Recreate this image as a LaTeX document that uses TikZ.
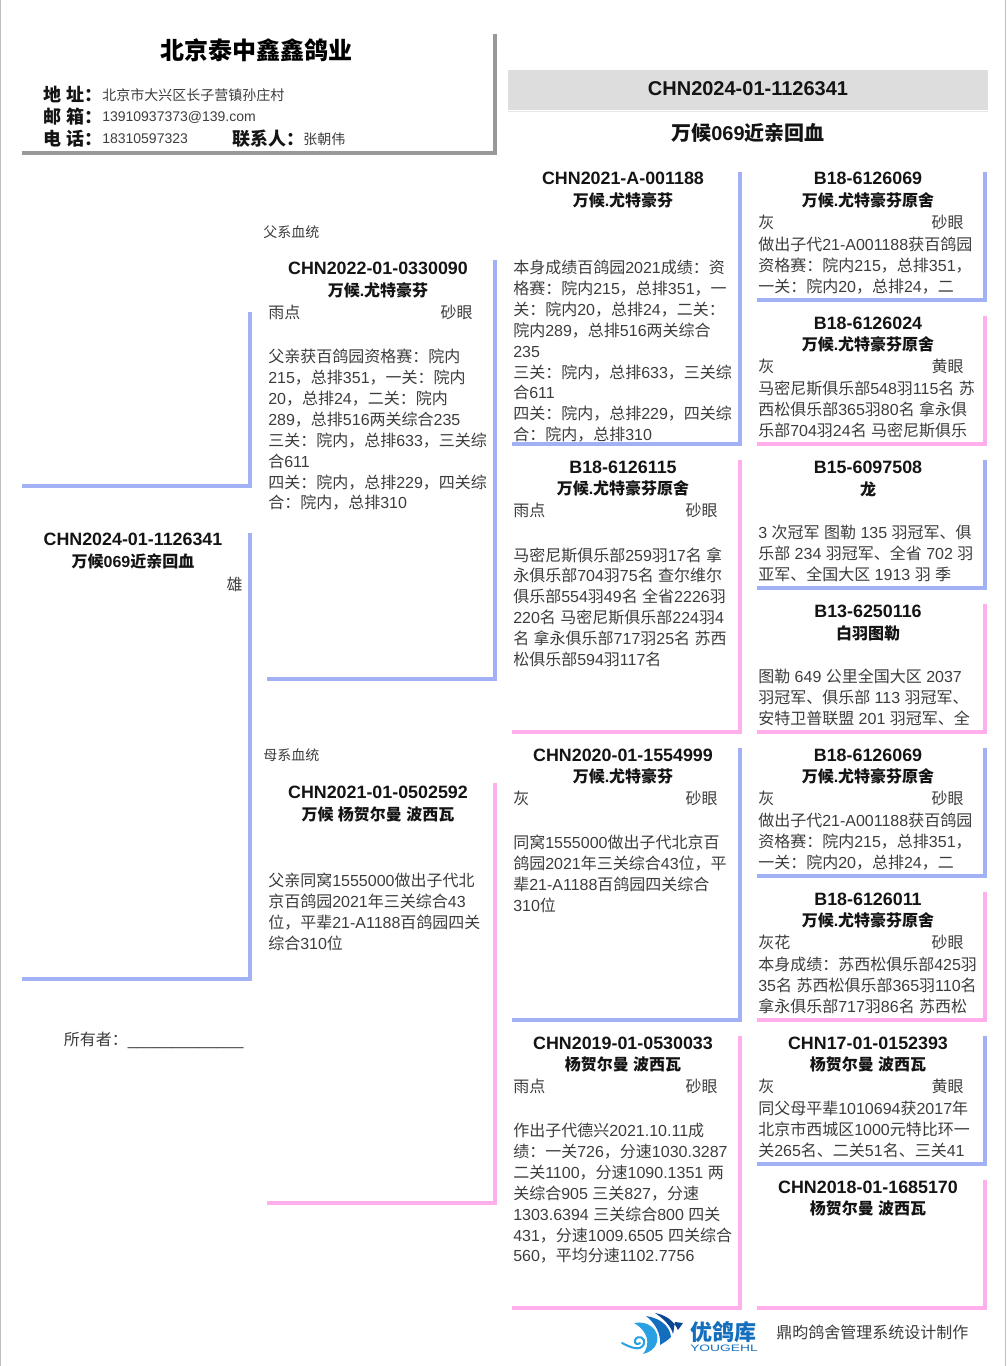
\documentclass[tikz,border=0pt]{standalone}
\usepackage{xcolor}
\usepackage{graphicx}
\usepackage{fontspec}
\setmainfont{Liberation Sans}
\newfontfamily\cjkfont{Noto Sans CJK SC}
\usepackage{tikz}
\definecolor{sirebar}{RGB}{162, 176, 245}
\definecolor{dambar}{RGB}{255, 176, 236}
\definecolor{headbar}{RGB}{153, 153, 153}
\definecolor{bandgray}{RGB}{221, 221, 221}
\definecolor{frameline}{RGB}{190, 190, 190}
\definecolor{bodyink}{RGB}{60, 60, 60}
\definecolor{titleink}{RGB}{20, 20, 20}
\definecolor{logoblue}{RGB}{20, 110, 190}
\definecolor{logodeep}{RGB}{10, 70, 150}
\definecolor{logolight}{RGB}{40, 160, 225}
% CJK characters go to the CJK family, the rest stays in Liberation Sans
\XeTeXinterchartokenstate=1
\newXeTeXintercharclass\cjkclass
\newcount\cjkcnt
\newcommand{\setcjkrange}[2]{\cjkcnt=#1
  \loop \XeTeXcharclass\cjkcnt=\cjkclass \ifnum\cjkcnt<#2 \advance\cjkcnt by 1 \repeat}
\setcjkrange{"3000}{"303F}
\setcjkrange{"4E00}{"9FFF}
\setcjkrange{"FF00}{"FFEF}
\XeTeXinterchartoks 0 \cjkclass={\cjkfont}
\XeTeXinterchartoks \cjkclass 0={\rmfamily}
\XeTeXinterchartoks 4095 \cjkclass={\cjkfont}
\XeTeXinterchartoks \cjkclass 4095={\rmfamily}
\XeTeXinterchartoks 4095 0={\rmfamily}

\begin{document}
\begin{tikzpicture}[x=0.75pt, y=-0.75pt]
    \tikzstyle{ringid} = [anchor=base, inner sep=0pt, text=titleink, font=\fontsize{13.4}{16}\selectfont\bfseries]
    \tikzstyle{birdname} = [anchor=base, inner sep=0pt, text=titleink, font=\fontsize{12}{15}\selectfont\bfseries]
    \tikzstyle{plumage} = [anchor=base west, inner sep=0pt, text=bodyink, font=\fontsize{12}{15}\selectfont]
    \tikzstyle{eyesign} = [anchor=base east, inner sep=0pt, text=bodyink, font=\fontsize{12}{15}\selectfont]
    \tikzstyle{notes} = [anchor=north west, inner sep=0pt, yshift=-1.5pt, align=left, text=bodyink, font=\fontsize{12}{15.65}\selectfont, execute at begin node=\strut]
    \tikzstyle{small} = [anchor=base west, inner sep=0pt, text=bodyink, font=\fontsize{10.5}{13}\selectfont]
    \tikzstyle{headlabel} = [anchor=base west, inner sep=0pt, text=titleink, font=\fontsize{13.5}{16}\selectfont\bfseries]
    \tikzstyle{cardbar} = [line width=3pt, line join=miter]

    \useasboundingbox (0,0) rectangle (1006,1366);
    \draw[frameline, line width=1pt] (0.5,0) -- (0.5,1366);
    \draw[frameline, line width=1pt] (1005.5,0) -- (1005.5,1366);

    % Breeder header
    \draw[headbar, cardbar] (494.5,34) -- (494.5,153.5) -- (22,153.5);
    \node[anchor=base, inner sep=0pt, text=black, font=\fontsize{18}{22}\selectfont\bfseries] (loft) at (256,60) {北京泰中鑫鑫鸽业};
    \node[headlabel] (addrkey) at (43,102) {地 址：};
    \node[headlabel] (mailkey) at (43,124) {邮 箱：};
    \node[headlabel] (telkey) at (43,146) {电 话：};
    \node[headlabel] (contactkey) at (232,146) {联系人：};
    \node[small] (addr) at (102,101) {北京市大兴区长子营镇孙庄村};
    \node[small] (mail) at (102,121.5) {13910937373@139.com};
    \node[small] (tel) at (102,143.5) {18310597323};
    \node[small] (contact) at (303,144.5) {张朝伟};

    % Title band
    \fill[bandgray] (508,70) rectangle (988,110);
    \draw[bandgray!70, line width=0.75pt] (508,112) -- (988,112);
    \node[anchor=base, inner sep=0pt, text=titleink, font=\fontsize{15}{18}\selectfont\bfseries] (bandid) at (748,95.5) {CHN2024-01-1126341};
    \node[anchor=base, inner sep=0pt, text=titleink, font=\fontsize{15}{18}\selectfont\bfseries] (bandname) at (748,141) {万候069近亲回血};

    % Card borders
    \foreach \xa/\xb/\ya/\yb/\barcol in {
        22/249.5/312/485.5/sirebar, 22/249.5/533/978.5/sirebar,
        267/494.5/260/678.5/sirebar, 267/494.5/783/1202.5/dambar,
        512/739.5/172/444/sirebar, 512/739.5/460/732/dambar,
        512/739.5/748/1020/sirebar, 512/739.5/1036/1308/dambar,
        757/985/172/300/sirebar, 757/985/316/444/dambar,
        757/985/460/588/sirebar, 757/985/604/732/dambar,
        757/985/748/876/sirebar, 757/985/892/1020/dambar,
        757/985/1036/1164/sirebar, 757/985/1180/1308/dambar}
        \draw[cardbar, \barcol] (\xb,\ya) -- (\xb,\yb) -- (\xa,\yb);

    % Subject bird
    \node[ringid] (subjid) at (133,545) {CHN2024-01-1126341};
    \node[birdname] (subjname) at (133,567) {万候069近亲回血};
    \node[eyesign] (subjsex) at (243,590) {雄};
    \node[notes, anchor=base west, execute at begin node={}] (owner) at (63.5,1043) {所有者：\_\_\_\_\_\_\_\_\_\_\_\_\_};

    % Parents
    \node[small] (sireline) at (263,237) {父系血统};
    \node[ringid] (sireid) at (378,274) {CHN2022-01-0330090};
    \node[birdname] (sirename) at (378,296) {万候.尤特豪芬};
    \node[plumage] (sirecol) at (268,318) {雨点};
    \node[eyesign] (sireeye) at (473,318) {砂眼};
    \node[notes] (sirenote) at (268,347) {父亲获百鸽园资格赛：院内\\215，总排351，一关：院内\\20，总排24，二关：院内\\289，总排516两关综合235\\三关：院内，总排633，三关综\\合611\\四关：院内，总排229，四关综\\合：院内，总排310};

    \node[small] (damline) at (263,760) {母系血统};
    \node[ringid] (damid) at (378,798) {CHN2021-01-0502592};
    \node[birdname] (damname) at (378,820) {万候 杨贺尔曼 波西瓦};
    \node[notes] (damnote) at (268,871) {父亲同窝1555000做出子代北\\京百鸽园2021年三关综合43\\位，平辈21-A1188百鸽园四关\\综合310位};

    % Grandparents
    \node[ringid] (ssid) at (623,185) {CHN2021-A-001188};
    \node[birdname] (ssname) at (623,206) {万候.尤特豪芬};
    \node[notes] (ssnote) at (513,258) {本身成绩百鸽园2021成绩：资\\格赛：院内215，总排351，一\\关：院内20，总排24，二关：\\院内289，总排516两关综合\\235\\三关：院内，总排633，三关综\\合611\\四关：院内，总排229，四关综\\合：院内，总排310};

    \node[ringid] (sdid) at (623,473) {B18-6126115};
    \node[birdname] (sdname) at (623,494) {万候.尤特豪芬原舍};
    \node[plumage] (sdcol) at (513,516) {雨点};
    \node[eyesign] (sdeye) at (718,516) {砂眼};
    \node[notes] (sdnote) at (513,545) {马密尼斯俱乐部259羽17名 拿\\永俱乐部704羽75名 查尔维尔\\俱乐部554羽49名 全省2226羽\\220名 马密尼斯俱乐部224羽4\\名 拿永俱乐部717羽25名 苏西\\松俱乐部594羽117名};

    \node[ringid] (dsid) at (623,761) {CHN2020-01-1554999};
    \node[birdname] (dsname) at (623,782) {万候.尤特豪芬};
    \node[plumage] (dscol) at (513,804) {灰};
    \node[eyesign] (dseye) at (718,804) {砂眼};
    \node[notes] (dsnote) at (513,833) {同窝1555000做出子代北京百\\鸽园2021年三关综合43位，平\\辈21-A1188百鸽园四关综合\\310位};

    \node[ringid] (ddid) at (623,1049) {CHN2019-01-0530033};
    \node[birdname] (ddname) at (623,1070) {杨贺尔曼 波西瓦};
    \node[plumage] (ddcol) at (513,1092) {雨点};
    \node[eyesign] (ddeye) at (718,1092) {砂眼};
    \node[notes] (ddnote) at (513,1121) {作出子代德兴2021.10.11成\\绩：一关726，分速1030.3287\\二关1100，分速1090.1351 两\\关综合905 三关827，分速\\1303.6394 三关综合800 四关\\431，分速1009.6505 四关综合\\560，平均分速1102.7756};

    % Great-grandparents
    \node[ringid] (sssid) at (868,185) {B18-6126069};
    \node[birdname] (sssname) at (868,206) {万候.尤特豪芬原舍};
    \node[plumage] (ssscol) at (758,228) {灰};
    \node[eyesign] (ssseye) at (964,228) {砂眼};
    \node[notes] (sssnote) at (758,235) {做出子代21-A001188获百鸽园\\资格赛：院内215，总排351，\\一关：院内20，总排24，二};

    \node[ringid] (ssdid) at (868,329) {B18-6126024};
    \node[birdname] (ssdname) at (868,350) {万候.尤特豪芬原舍};
    \node[plumage] (ssdcol) at (758,372) {灰};
    \node[eyesign] (ssdeye) at (964,372) {黄眼};
    \node[notes] (ssdnote) at (758,379) {马密尼斯俱乐部548羽115名 苏\\西松俱乐部365羽80名 拿永俱\\乐部704羽24名 马密尼斯俱乐};

    \node[ringid] (sdsid) at (868,473) {B15-6097508};
    \node[birdname] (sdsname) at (868,495) {龙};
    \node[notes] (sdsnote) at (758,523) {3 次冠军 图勒 135 羽冠军、俱\\乐部 234 羽冠军、全省 702 羽\\亚军、全国大区 1913 羽 季};

    \node[ringid] (sddid) at (868,617) {B13-6250116};
    \node[birdname] (sddname) at (868,639) {白羽图勒};
    \node[notes] (sddnote) at (758,667) {图勒 649 公里全国大区 2037\\羽冠军、俱乐部 113 羽冠军、\\安特卫普联盟 201 羽冠军、全};

    \node[ringid] (dssid) at (868,761) {B18-6126069};
    \node[birdname] (dssname) at (868,782) {万候.尤特豪芬原舍};
    \node[plumage] (dsscol) at (758,804) {灰};
    \node[eyesign] (dsseye) at (964,804) {砂眼};
    \node[notes] (dssnote) at (758,811) {做出子代21-A001188获百鸽园\\资格赛：院内215，总排351，\\一关：院内20，总排24，二};

    \node[ringid] (dsdid) at (868,905) {B18-6126011};
    \node[birdname] (dsdname) at (868,926) {万候.尤特豪芬原舍};
    \node[plumage] (dsdcol) at (758,948) {灰花};
    \node[eyesign] (dsdeye) at (964,948) {砂眼};
    \node[notes] (dsdnote) at (758,955) {本身成绩：苏西松俱乐部425羽\\35名 苏西松俱乐部365羽110名\\拿永俱乐部717羽86名 苏西松};

    \node[ringid] (ddsid) at (868,1049) {CHN17-01-0152393};
    \node[birdname] (ddsname) at (868,1070) {杨贺尔曼 波西瓦};
    \node[plumage] (ddscol) at (758,1092) {灰};
    \node[eyesign] (ddseye) at (964,1092) {黄眼};
    \node[notes] (ddsnote) at (758,1099) {同父母平辈1010694获2017年\\北京市西城区1000元特比环一\\关265名、二关51名、三关41};

    \node[ringid] (dddid) at (868,1193) {CHN2018-01-1685170};
    \node[birdname] (dddname) at (868,1214) {杨贺尔曼 波西瓦};

    % Logo and footer
    \fill[logolight] (634,1323) .. controls (648,1320) and (660,1330) .. (657,1342) .. controls (655,1349) and (650,1352) .. (643,1354) .. controls (651,1344) and (648,1331) .. (634,1323);
    \fill[logoblue] (646,1316) .. controls (660,1318) and (670,1326) .. (671,1337) .. controls (668,1340) and (665,1342) .. (660,1345) .. controls (661,1334) and (656,1324) .. (646,1316);
    \fill[logodeep] (655,1313) .. controls (666,1315) and (674,1321) .. (678,1330) -- (683,1323) -- (675,1322) .. controls (674,1326) and (674,1330) .. (673,1334) .. controls (671,1326) and (664,1319) .. (655,1313);
    \draw[logolight, line width=1.5pt, line cap=round] (622,1343) .. controls (630,1347) and (640,1352) .. (644,1344) .. controls (646,1338) and (638,1334) .. (635,1340) .. controls (634,1344) and (638,1345) .. (640,1343);
    \node[anchor=base west, inner sep=0pt, text=logoblue, font=\fontsize{16.5}{18}\selectfont\bfseries] (logoname) at (690,1340) {优鸽库};
    \node[anchor=base west, inner sep=0pt, text=logoblue, font=\fontsize{7}{8}\selectfont] (logolatin) at (690,1351) {\scalebox{1.48}[1]{YOUGEHL}};
    \node[anchor=base west, inner sep=0pt, text=bodyink, font=\fontsize{12}{14}\selectfont] (footer) at (776,1338) {鼎昀鸽舍管理系统设计制作};
\end{tikzpicture}
\end{document}
